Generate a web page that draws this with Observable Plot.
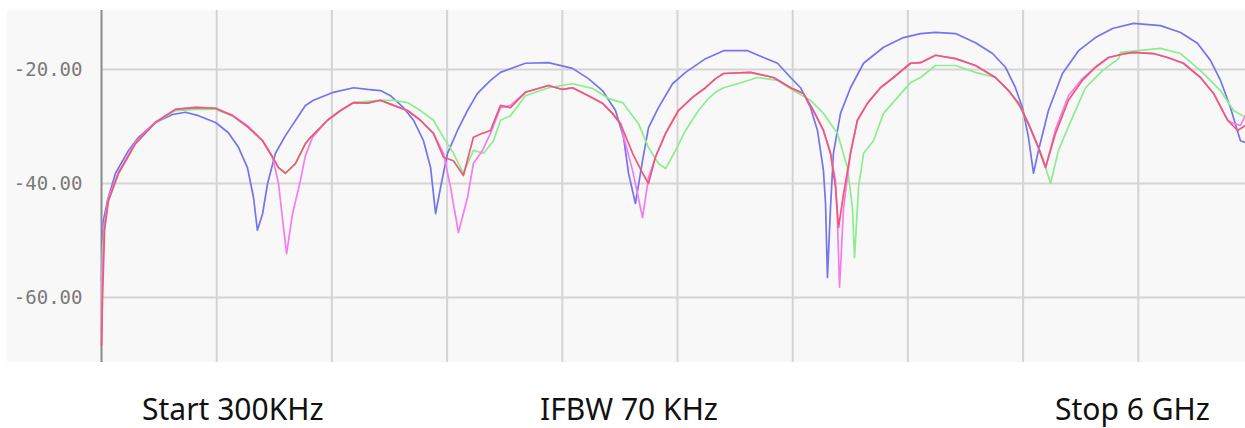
<!DOCTYPE html>
<html>
<head>
<meta charset="utf-8">
<script src="https://cdn.jsdelivr.net/npm/d3@7"></script>
<script src="https://cdn.jsdelivr.net/npm/@observablehq/plot@0.6"></script>
<style>
  html, body { margin: 0; padding: 0; background: #ffffff; width: 1245px; height: 428px; overflow: hidden; position: relative; }
  #chart { position: absolute; left: 7px; top: 10px; }
  #chart svg { background: #f8f8f8 !important; overflow: hidden; }
  .cap { position: absolute; top: 394px; font-family: "Noto Sans", sans-serif; font-size: 30px; line-height: 1; color: #111; white-space: nowrap; }
</style>
</head>
<body>
<div id="chart"></div>
<div class="cap" style="left:142px">Start 300KHz</div>
<div class="cap" style="left:540px">IFBW 70 KHz</div>
<div class="cap" style="left:1055px">Stop 6 GHz</div>
<script>
// Frequency in MHz, magnitude in dB
const blue = [[0.3,-57.0],[10,-46.5],[31,-43.0],[73,-38.2],[141,-34.2],[193,-31.9],[281,-29.3],[370,-27.9],[437,-27.5],[505,-28.1],[594,-29.3],[661,-31.1],[714,-33.7],[760,-37.2],[792,-42.5],[812,-48.2],[839,-45.3],[865,-40.0],[906,-34.7],[958,-31.6],[1062,-26.3],[1104,-25.4],[1208,-24.0],[1313,-23.2],[1385,-23.5],[1453,-23.7],[1505,-24.6],[1573,-26.7],[1625,-28.9],[1677,-32.5],[1714,-37.2],[1740,-45.3],[1766,-40.7],[1802,-34.7],[1854,-30.7],[1906,-27.2],[1958,-24.2],[2026,-21.9],[2078,-20.5],[2208,-18.9],[2328,-18.8],[2453,-19.8],[2536,-21.6],[2609,-23.7],[2677,-27.2],[2719,-31.9],[2745,-38.2],[2781,-43.5],[2818,-36.0],[2849,-30.2],[2901,-26.7],[2974,-22.5],[3042,-20.5],[3146,-18.1],[3240,-16.7],[3365,-16.7],[3448,-17.9],[3521,-18.9],[3589,-21.4],[3641,-23.2],[3693,-26.7],[3729,-30.7],[3760,-37.7],[3771,-43.5],[3781,-56.5],[3797,-44.2],[3812,-34.7],[3849,-27.7],[3901,-23.2],[3969,-18.9],[4073,-16.1],[4177,-14.4],[4266,-13.7],[4344,-13.5],[4448,-13.7],[4552,-15.3],[4641,-17.2],[4708,-19.6],[4760,-23.2],[4797,-26.7],[4828,-31.9],[4854,-38.2],[4880,-34.2],[4932,-27.2],[5005,-20.7],[5089,-16.7],[5177,-14.4],[5266,-12.8],[5375,-11.9],[5516,-12.3],[5620,-13.5],[5708,-15.4],[5776,-18.4],[5828,-21.9],[5880,-26.7],[5932,-32.5],[5958,-32.8]];

const red = [[0.3,-68.4],[5,-60.5],[16,-48.2],[36,-43.0],[89,-38.2],[177,-33.0],[281,-29.3],[385,-27.0],[490,-26.7],[594,-26.8],[682,-28.1],[766,-30.2],[839,-32.5],[891,-35.4],[922,-37.2],[958,-38.2],[1010,-36.5],[1062,-33.0],[1089,-31.9],[1177,-28.9],[1245,-27.2],[1313,-25.8],[1385,-25.9],[1453,-25.4],[1521,-26.3],[1594,-27.2],[1661,-28.9],[1729,-31.2],[1781,-35.4],[1833,-36.0],[1885,-38.6],[1937,-31.9],[1984,-31.2],[2026,-30.7],[2078,-26.3],[2130,-26.7],[2208,-24.0],[2328,-22.8],[2401,-23.5],[2453,-23.2],[2536,-24.6],[2609,-25.9],[2661,-27.7],[2703,-29.5],[2766,-34.7],[2818,-38.2],[2849,-40.0],[2885,-35.4],[2938,-31.2],[3005,-27.2],[3078,-24.9],[3146,-23.2],[3198,-21.6],[3240,-20.7],[3380,-20.5],[3500,-21.4],[3589,-23.2],[3656,-24.2],[3708,-27.2],[3760,-30.7],[3797,-34.7],[3823,-40.7],[3839,-47.7],[3865,-41.8],[3901,-34.7],[3937,-28.9],[3990,-25.9],[4057,-23.2],[4125,-21.4],[4214,-18.9],[4266,-18.8],[4344,-17.5],[4448,-18.1],[4552,-19.3],[4656,-21.4],[4724,-23.7],[4776,-25.9],[4828,-29.5],[4880,-33.7],[4917,-37.2],[4969,-31.2],[5036,-25.4],[5109,-21.9],[5177,-19.6],[5245,-17.9],[5333,-17.2],[5375,-17.0],[5479,-17.2],[5552,-17.9],[5635,-18.9],[5724,-21.4],[5792,-24.2],[5865,-28.9],[5917,-30.7],[5958,-29.8]];

const pink = [[0.3,-66.0],[5,-55.0],[16,-47.0],[36,-42.5],[89,-38.0],[177,-32.8],[281,-29.2],[385,-27.0],[490,-26.6],[594,-26.8],[682,-28.0],[766,-30.0],[839,-32.5],[891,-35.4],[922,-40.0],[948,-47.7],[964,-52.3],[995,-45.3],[1036,-39.5],[1062,-35.1],[1099,-31.9],[1177,-28.9],[1245,-27.2],[1313,-25.8],[1385,-25.9],[1453,-25.4],[1521,-26.3],[1594,-27.2],[1661,-28.9],[1729,-31.2],[1781,-34.7],[1818,-40.7],[1859,-48.6],[1906,-42.5],[1937,-36.5],[1984,-34.2],[2026,-31.2],[2078,-26.7],[2130,-26.3],[2208,-24.0],[2328,-22.8],[2401,-23.5],[2453,-23.2],[2536,-24.6],[2609,-25.9],[2661,-27.7],[2703,-29.5],[2729,-33.0],[2766,-37.7],[2818,-46.0],[2849,-39.0],[2885,-35.4],[2938,-31.2],[3005,-27.2],[3078,-24.9],[3146,-23.2],[3198,-21.6],[3240,-20.7],[3380,-20.5],[3500,-21.4],[3589,-23.2],[3656,-24.2],[3708,-27.2],[3760,-30.7],[3797,-34.7],[3823,-39.5],[3833,-46.5],[3844,-58.2],[3865,-44.2],[3885,-38.9],[3901,-34.7],[3937,-28.9],[3990,-25.9],[4057,-23.2],[4125,-21.4],[4214,-18.9],[4266,-18.8],[4344,-17.5],[4448,-18.1],[4552,-19.3],[4656,-21.4],[4724,-23.7],[4776,-25.9],[4828,-29.5],[4880,-33.7],[4917,-37.2],[4969,-30.5],[5036,-24.6],[5109,-21.6],[5177,-19.6],[5245,-17.9],[5333,-17.2],[5375,-17.0],[5479,-17.2],[5552,-17.9],[5635,-18.9],[5724,-21.4],[5792,-24.2],[5865,-28.9],[5896,-29.5],[5932,-29.8],[5958,-28.1]];

const green = [[0.3,-60.5],[5,-52.0],[16,-47.0],[36,-43.0],[89,-38.2],[177,-33.0],[281,-29.3],[385,-27.2],[490,-27.0],[594,-27.0],[682,-28.1],[766,-30.2],[839,-32.5],[891,-35.4],[922,-37.2],[958,-38.2],[1010,-36.5],[1062,-33.0],[1089,-31.9],[1177,-28.9],[1245,-27.2],[1313,-25.8],[1385,-25.6],[1453,-25.4],[1521,-25.4],[1594,-25.8],[1661,-27.2],[1729,-28.9],[1781,-31.9],[1833,-34.7],[1885,-38.2],[1937,-34.2],[1990,-34.7],[2042,-32.5],[2078,-28.9],[2130,-28.1],[2208,-24.6],[2328,-23.2],[2453,-22.5],[2557,-23.3],[2641,-25.1],[2714,-25.8],[2797,-29.5],[2849,-33.7],[2901,-36.5],[2938,-37.4],[2990,-34.2],[3042,-30.7],[3109,-27.2],[3161,-25.1],[3198,-24.0],[3240,-23.2],[3313,-22.5],[3417,-21.4],[3521,-21.9],[3604,-23.7],[3693,-25.4],[3760,-27.7],[3833,-31.2],[3885,-37.2],[3911,-44.2],[3922,-53.0],[3943,-40.7],[3969,-34.7],[4021,-32.5],[4073,-27.7],[4146,-24.9],[4214,-22.3],[4266,-21.4],[4344,-19.3],[4448,-19.3],[4552,-20.5],[4656,-21.4],[4724,-23.7],[4797,-27.2],[4849,-31.2],[4901,-35.4],[4943,-40.0],[4984,-34.2],[5057,-28.4],[5125,-23.2],[5214,-20.2],[5297,-18.1],[5307,-17.0],[5516,-16.3],[5620,-17.2],[5724,-20.2],[5828,-23.7],[5896,-27.2],[5958,-28.4]];

const yTicks = [-20, -40, -60];
const xGrid = [600, 1200, 1800, 2400, 3000, 3600, 4200, 4800, 5400];
const captions = ["Start 300KHz", "IFBW 70 KHz", "Stop 6 GHz"];

const series = [
  {name: "blue", data: blue, color: "#7474ec"},
  {name: "green", data: green, color: "#8ced8c"},
  {name: "pink", data: pink, color: "#f57cf0"},
  {name: "red", data: red, color: "#ec5a78"}
];

const W = 1238, H = 352;
const chart = Plot.plot({
  width: W,
  height: H,
  marginLeft: 94, marginRight: 0, marginTop: 0, marginBottom: 0,
  style: {background: "#f8f8f8", overflow: "hidden"},
  x: {domain: [0, 6000], range: [94, 1246], axis: null},
  y: {domain: [-60, -20], range: [287, 59]},
  marks: [
    Plot.ruleY(yTicks, {stroke: "#d4d4d4", strokeWidth: 2, x1: 0, x2: 6000}),
    Plot.ruleX(xGrid, {stroke: "#d4d4d4", strokeWidth: 2, y1: -71.4, y2: -9.6}),
    Plot.ruleX([0], {stroke: "#8a8a8a", strokeWidth: 2, y1: -71.4, y2: -9.6}),
    Plot.axisY({ticks: yTicks, tickSize: 0, tickPadding: 19, tickFormat: d => d.toFixed(2),
      fontSize: 19, fontFamily: "DejaVu Sans Mono", fill: "#7a7a7a", label: null}),
    ...series.map(s => Plot.line(s.data, {x: d => d[0], y: d => d[1], stroke: s.color, strokeWidth: 1.7, strokeLinejoin: "round"}))
  ]
});
document.getElementById("chart").appendChild(chart);
document.querySelectorAll(".cap").forEach((el, i) => el.textContent = captions[i]);
</script>
</body>
</html>
